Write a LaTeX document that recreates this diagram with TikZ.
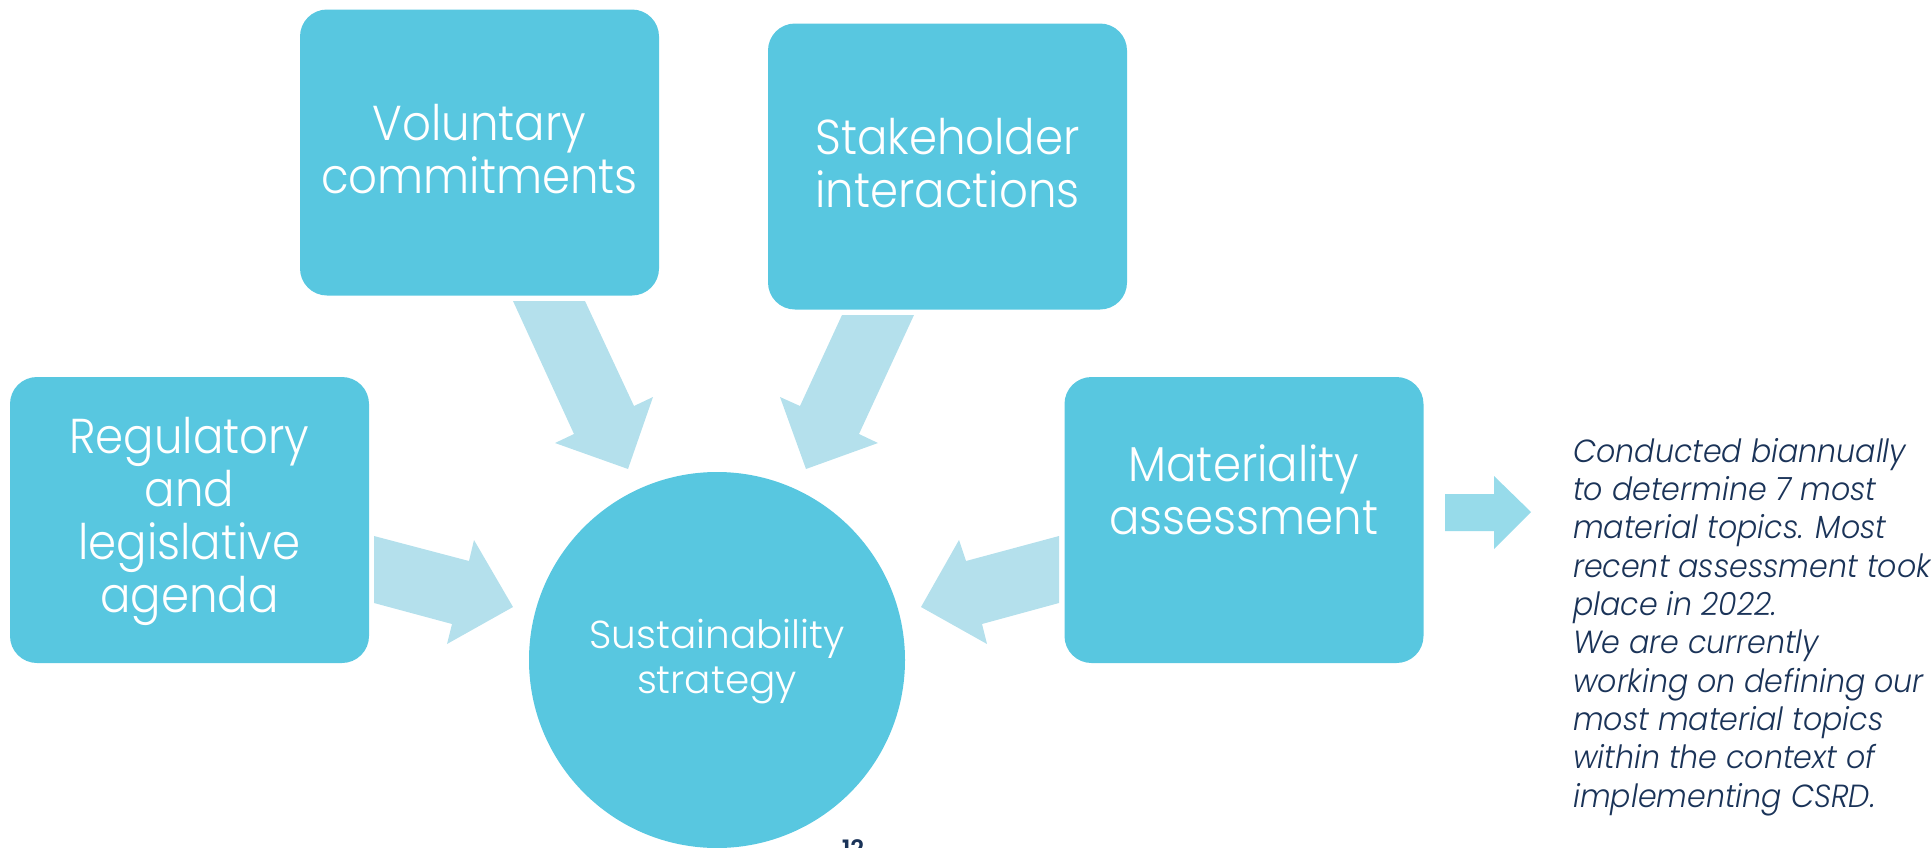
\documentclass[tikz,border=0pt]{standalone}
\usepackage{fontspec}
\setmainfont{Poppins}[UprightFont={* Light}, ItalicFont={* Light Italic}, BoldFont={* SemiBold}]
\newfontfamily\boxfont{Poppins}[UprightFont={* Light}, FakeStretch=0.92]
\newfontfamily\circfont{Poppins}[UprightFont={* Light}, FakeStretch=1.0]
\newfontfamily\notefont{Poppins}[UprightFont={* Light Italic}, FakeStretch=0.94]
\definecolor{boxc}{HTML}{58C7E0}
\definecolor{arrc}{HTML}{B4E0EC}
\definecolor{arrs}{HTML}{97DBEA}
\definecolor{navy}{HTML}{1A3358}
\begin{document}
\begin{tikzpicture}[x=1pt,y=-1pt,
  box/.style={fill=boxc, draw=none, rounded corners=27pt, minimum width=359pt, minimum height=286pt, inner sep=0pt},
  boxtext/.style={text=white, align=center, inner sep=0pt, font=\boxfont\fontsize{49}{53}\selectfont},
  blockarrow/.style={fill=arrc, draw=none},
  smallarrow/.style={fill=arrs, draw=none}]
\useasboundingbox (0,0) rectangle (1931,847);

% boxes
\node[box] (vol) at (479.5,152.5) {};
\node[box] (stk) at (947.5,166.5) {};
\node[box] (reg) at (189.5,520) {};
\node[box] (mat) at (1244,520) {};
\node[circle, fill=boxc, draw=none, minimum size=376pt, inner sep=0pt] (sus) at (717,660) {};

% texts (base = baseline of last line)
\node[boxtext, anchor=base] (voltxt) at (vol.center |- 0,193) {Voluntary\\commitments};
\node[boxtext, anchor=base] (stktxt) at (stk.center |- 0,207) {Stakeholder\\interactions};
\node[boxtext, anchor=base] (regtxt) at (reg.center |- 0,612) {Regulatory\\and\\legislative\\agenda};
\node[boxtext, anchor=base] (mattxt) at (mat.center |- 0,534) {Materiality\\assessment};
\node[text=white, align=center, inner sep=0pt, font=\circfont\fontsize{39}{45}\selectfont, anchor=base] (sustxt) at (sus.center |- 0,693) {Sustainability\\strategy};

% block arrows
\draw[blockarrow] (513,301) -- (585,301) -- (634,406) -- (653,397) -- (628,469) -- (555,443) -- (574,434) -- cycle;
\draw[blockarrow] (842,315) -- (914,315) -- (859,434) -- (878,443) -- (806,469) -- (780,397) -- (800,406) -- cycle;
\draw[blockarrow] (374,536) -- (469,561) -- (474,540) -- (513,607) -- (447,644) -- (452,624) -- (374,603) -- cycle;
\draw[blockarrow] (1059,536) -- (966,561) -- (959,540) -- (921,607) -- (987,644) -- (982,624) -- (1059,603) -- cycle;
\draw[smallarrow] (1445,494) -- (1494,494) -- (1494,476) -- (1531,512) -- (1494,549) -- (1494,531) -- (1445,531) -- cycle;

% note
\node[anchor=base west, align=left, inner sep=0pt, text=navy, font=\notefont\fontsize{32}{38.3}\selectfont] (note) at (1573,807) {Conducted biannually\\to determine 7 most\\material topics. Most\\recent assessment took\\place in 2022.\\We are currently\\working on defining our\\most material topics\\within the context of\\implementing CSRD.};

% page number
\node[anchor=north, inner sep=0pt, text=navy, font=\bfseries\fontsize{24}{24}\selectfont] (pg) at (853,839) {12};
\end{tikzpicture}
\end{document}
